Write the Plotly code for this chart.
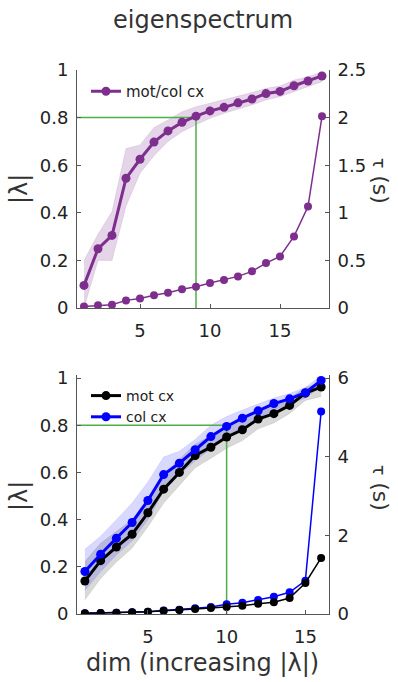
import plotly.graph_objects as go

# ---------------- data ----------------
dims_top = list(range(1, 19))
lam_top = [0.095, 0.249, 0.305, 0.545, 0.625, 0.697, 0.744, 0.780, 0.806, 0.828,
           0.843, 0.862, 0.878, 0.901, 0.910, 0.934, 0.954, 0.975]
lam_top_hi = [0.20, 0.31, 0.405, 0.67, 0.685, 0.758, 0.79, 0.825, 0.846, 0.86,
              0.874, 0.888, 0.905, 0.923, 0.933, 0.958, 0.972, 0.993]
lam_top_lo = [0.0, 0.20, 0.20, 0.427, 0.566, 0.64, 0.70, 0.741, 0.77, 0.797,
              0.818, 0.835, 0.853, 0.874, 0.888, 0.909, 0.93, 0.951]
tau_top = [0.017, 0.028, 0.035, 0.08, 0.10, 0.133, 0.16, 0.196, 0.224, 0.262,
           0.294, 0.332, 0.385, 0.472, 0.542, 0.752, 1.066, 2.014]

dims_bot = list(range(1, 17))
lam_mot = [0.14, 0.226, 0.284, 0.338, 0.429, 0.529, 0.60, 0.672, 0.707, 0.75,
           0.781, 0.826, 0.849, 0.884, 0.936, 0.962]
lam_mot_hi = [0.222, 0.30, 0.35, 0.40, 0.49, 0.59, 0.655, 0.72, 0.755, 0.795,
              0.825, 0.865, 0.885, 0.915, 0.96, 0.98]
lam_mot_lo = [0.06, 0.15, 0.22, 0.28, 0.37, 0.47, 0.545, 0.62, 0.66, 0.703,
              0.735, 0.785, 0.81, 0.85, 0.905, 0.922]
lam_col = [0.18, 0.253, 0.321, 0.388, 0.481, 0.591, 0.639, 0.696, 0.752, 0.795,
           0.83, 0.861, 0.892, 0.912, 0.938, 0.99]
lam_col_hi = [0.274, 0.33, 0.40, 0.47, 0.56, 0.665, 0.69, 0.74, 0.80, 0.837,
              0.865, 0.89, 0.915, 0.935, 0.96, 1.01]
lam_col_lo = [0.10, 0.18, 0.25, 0.31, 0.40, 0.52, 0.59, 0.65, 0.70, 0.745,
              0.79, 0.83, 0.865, 0.89, 0.915, 0.965]
tau_mot = [0.017, 0.025, 0.034, 0.042, 0.06, 0.085, 0.10, 0.127, 0.153, 0.178,
           0.212, 0.263, 0.297, 0.407, 0.79, 1.426]
tau_col = [0.017, 0.025, 0.034, 0.042, 0.06, 0.09, 0.11, 0.145, 0.18, 0.246,
           0.289, 0.357, 0.441, 0.552, 0.849, 5.15]

thresh = 0.8
dim_top_thresh = 9
dim_bot_thresh = 10

title_text = "eigenspectrum"
xlabel = "dim (increasing |λ|)"

PURPLE = "#7e2f8e"
PURPLE_FILL = "rgba(126,47,142,0.2)"
BLUE = "#0000ff"
BLUE_FILL = "rgba(0,0,255,0.15)"
BLACK = "#000000"
BLACK_FILL = "rgba(0,0,0,0.15)"
GREEN = "#4daf4a"
FONT = "DejaVu Sans"
AX = "#555555"

W, H = 398, 682
def px_x(v): return v / W
def px_y(v): return 1 - v / H

fig = go.Figure()

def band(x, lo, hi, fill, xa, ya):
    fig.add_trace(go.Scatter(x=x, y=lo, mode="lines", line=dict(width=0.6, color=fill),
                             showlegend=False, hoverinfo="skip", xaxis=xa, yaxis=ya))
    fig.add_trace(go.Scatter(x=x, y=hi, mode="lines", line=dict(width=0.6, color=fill),
                             fill="tonexty", fillcolor=fill, showlegend=False,
                             hoverinfo="skip", xaxis=xa, yaxis=ya))

# ---------- top panel ----------
band(dims_top, lam_top_lo, lam_top_hi, PURPLE_FILL, "x", "y")
fig.add_trace(go.Scatter(x=[dims_top[0] - 0.5, dim_top_thresh, dim_top_thresh],
                         y=[thresh, thresh, 0], mode="lines",
                         line=dict(color=GREEN, width=1.5), showlegend=False,
                         xaxis="x", yaxis="y"))
fig.add_trace(go.Scatter(x=dims_top, y=tau_top, mode="lines+markers",
                         line=dict(color=PURPLE, width=1.5), marker=dict(size=8, color=PURPLE),
                         showlegend=False, xaxis="x", yaxis="y2"))
fig.add_trace(go.Scatter(x=dims_top, y=lam_top, mode="lines+markers", name="mot/col cx",
                         line=dict(color=PURPLE, width=3), marker=dict(size=9, color=PURPLE),
                         legend="legend", xaxis="x", yaxis="y"))

# ---------- bottom panel ----------
band(dims_bot, lam_mot_lo, lam_mot_hi, BLACK_FILL, "x2", "y3")
band(dims_bot, lam_col_lo, lam_col_hi, BLUE_FILL, "x2", "y3")
fig.add_trace(go.Scatter(x=[dims_bot[0] - 0.5, dim_bot_thresh, dim_bot_thresh],
                         y=[thresh, thresh, 0], mode="lines",
                         line=dict(color=GREEN, width=1.5), showlegend=False,
                         xaxis="x2", yaxis="y3"))
fig.add_trace(go.Scatter(x=dims_bot, y=tau_col, mode="lines+markers",
                         line=dict(color=BLUE, width=1.5), marker=dict(size=8, color=BLUE),
                         showlegend=False, xaxis="x2", yaxis="y4"))
fig.add_trace(go.Scatter(x=dims_bot, y=tau_mot, mode="lines+markers",
                         line=dict(color=BLACK, width=1.5), marker=dict(size=8, color=BLACK),
                         showlegend=False, xaxis="x2", yaxis="y4"))
fig.add_trace(go.Scatter(x=dims_bot, y=lam_mot, mode="lines+markers", name="mot cx",
                         line=dict(color=BLACK, width=3), marker=dict(size=9, color=BLACK),
                         legend="legend2", xaxis="x2", yaxis="y3"))
fig.add_trace(go.Scatter(x=dims_bot, y=lam_col, mode="lines+markers", name="col cx",
                         line=dict(color=BLUE, width=3), marker=dict(size=9, color=BLUE),
                         legend="legend2", xaxis="x2", yaxis="y3"))

tickfont = dict(family=FONT, size=18, color="#222222")
common_axis = dict(showline=True, linecolor=AX, linewidth=1, ticks="inside", ticklen=4,
                   tickcolor=AX, showgrid=False, zeroline=False, tickfont=tickfont,
                   automargin=False)

xdom = [px_x(77), px_x(329)]
top_dom = [px_y(308), px_y(70)]
bot_dom = [px_y(614), px_y(375)]

fig.update_layout(
    width=W, height=H, margin=dict(l=0, r=0, t=0, b=0, autoexpand=False),
    paper_bgcolor="white", plot_bgcolor="white",
    xaxis=dict(domain=xdom, range=[0.5, 18.5], tickvals=[5, 10, 15], anchor="y",
               ticklabelstandoff=6, **common_axis),
    yaxis=dict(domain=top_dom, range=[0, 1], tickvals=[0, 0.2, 0.4, 0.6, 0.8, 1],
               ticktext=["0", "0.2", "0.4", "0.6", "0.8", "1"], anchor="x",
               ticklabelstandoff=4, **common_axis),
    yaxis2=dict(range=[0, 2.5], tickvals=[0, 0.5, 1, 1.5, 2, 2.5],
                ticktext=["0", "0.5", "1", "1.5", "2", "2.5"],
                overlaying="y", side="right", anchor="x", ticklabelstandoff=4, **common_axis),
    xaxis2=dict(domain=xdom, range=[0.5, 16.5], tickvals=[5, 10, 15], anchor="y3",
                ticklabelstandoff=6, **common_axis),
    yaxis3=dict(domain=bot_dom, range=[0, 1.013], tickvals=[0, 0.2, 0.4, 0.6, 0.8, 1],
                ticktext=["0", "0.2", "0.4", "0.6", "0.8", "1"], anchor="x2",
                ticklabelstandoff=4, **common_axis),
    yaxis4=dict(range=[0, 6.08], tickvals=[0, 2, 4, 6], ticktext=["0", "2", "4", "6"],
                overlaying="y3", side="right", anchor="x2", ticklabelstandoff=4, **common_axis),
    legend=dict(x=px_x(86), y=px_y(75), xanchor="left", yanchor="top",
                bgcolor="rgba(0,0,0,0)", font=dict(family=FONT, size=15, color="#222"),
                itemwidth=30, tracegroupgap=0),
    legend2=dict(x=px_x(86), y=px_y(380), xanchor="left", yanchor="top",
                 bgcolor="rgba(0,0,0,0)", font=dict(family=FONT, size=14, color="#222"),
                 itemwidth=30, tracegroupgap=0),
    showlegend=True,
)

ann = []
ann.append(dict(text=title_text, x=px_x(203), y=px_y(20), xref="paper", yref="paper",
                xanchor="center", yanchor="middle",
                showarrow=False, font=dict(family=FONT, size=24, color="#333333")))
ann.append(dict(text=xlabel, x=px_x(202), y=px_y(663), xref="paper", yref="paper",
                xanchor="center", yanchor="middle",
                showarrow=False, font=dict(family=FONT, size=24, color="#333333")))
for yc in (189, 496):
    ann.append(dict(text="|λ|", x=px_x(19), y=px_y(yc), xref="paper", yref="paper",
                    xanchor="center", yanchor="middle",
                    textangle=-90, showarrow=False,
                    font=dict(family=FONT, size=24, color="#333333")))
for yc in (181, 488):
    ann.append(dict(text="<span style='font-size:17px'>τ</span> (s)", x=px_x(381),
                    y=px_y(yc), xref="paper", yref="paper",
                    xanchor="center", yanchor="middle",
                    textangle=90, showarrow=False,
                    font=dict(family=FONT, size=22, color="#333333")))
fig.update_layout(annotations=ann)

fig.write_html("out.html")
